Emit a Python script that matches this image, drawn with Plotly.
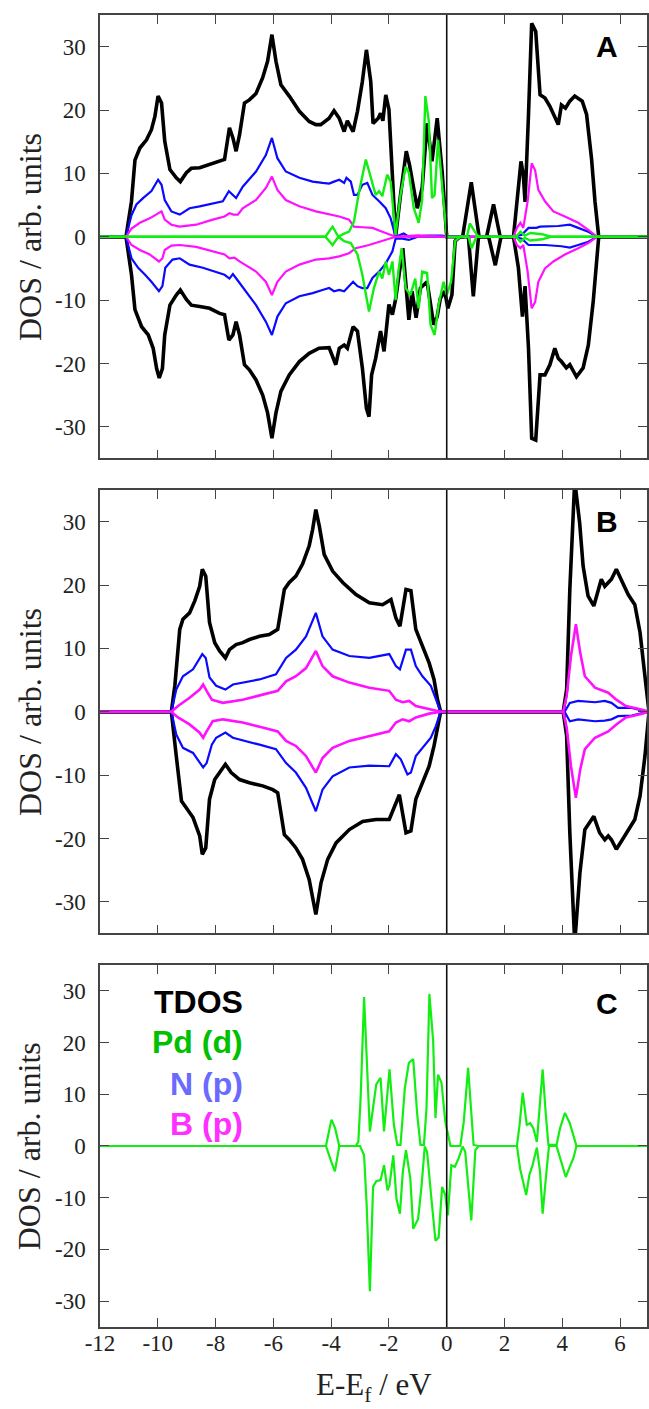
import plotly.graph_objects as go

# ---------------- data: (E - Ef [eV], DOS) ----------------
A_tdos_up = [(-12,0),(-11.1,0),(-10.91,5.6),(-10.79,12.1),(-10.62,14.0),(-10.39,15.3),(-10.22,16.9),(-10.10,19.0),
    (-9.99,22.2),(-9.87,21.1),(-9.76,15.1),(-9.58,10.6),(-9.36,9.3),(-9.22,8.7),(-9.01,10.1),(-8.84,10.8),(-8.55,10.9),
    (-8.21,11.4),(-7.86,11.9),(-7.69,12.2),(-7.52,17.2),(-7.40,15.6),(-7.29,13.5),(-7.17,16.1),(-7.0,21.1),(-6.83,21.6),
    (-6.6,22.6),(-6.37,25.1),(-6.2,27.7),(-6.05,31.9),(-5.91,27.7),(-5.74,24.0),(-5.45,22.2),(-5.1,19.8),(-4.76,18.2),
    (-4.53,17.7),(-4.36,17.7),(-4.07,18.7),(-3.9,19.9),(-3.72,18.7),(-3.55,16.6),(-3.44,18.3),(-3.24,16.6),(-3.09,19.8),
    (-2.92,24.5),(-2.78,29.5),(-2.63,24.5),(-2.55,17.9),(-2.37,18.7),(-2.29,19.5),(-2.21,18.3),(-2.11,22.4),(-2.0,20.1),
    (-1.77,0),(-1.6,6.6),(-1.4,13.5),(-1.29,11.4),(-1.02,4.5),(-0.85,7.7),(-0.68,17.9),(-0.51,11.9),(-0.33,18.7),
    (-0.16,10.3),(0.0,0),(0.55,0),(0.85,8.6),(1.12,0),(1.38,0),(1.62,5.1),(1.85,0),(2.31,0),(2.46,7.7),(2.57,11.9),
    (2.65,9.8),(2.71,5.5),(2.83,19.3),(2.94,33.7),(3.08,32.4),(3.23,22.4),(3.4,21.9),(3.57,20.6),(3.86,17.7),(3.97,20.8),
    (4.11,20.3),(4.26,21.4),(4.43,22.2),(4.69,21.4),(4.84,19.3),(5.01,12.4),(5.13,5.6),(5.26,0),(7,0)]
A_tdos_dn = [(-12,0),(-11.1,0),(-10.91,-6.0),(-10.79,-11.5),(-10.56,-14.2),(-10.33,-15.5),(-10.16,-17.6),(-10.04,-20.8),
    (-9.95,-22.3),(-9.84,-20.8),(-9.76,-15.5),(-9.58,-10.8),(-9.36,-9.2),(-9.22,-8.4),(-9.01,-9.9),(-8.84,-10.8),
    (-8.55,-11.0),(-8.21,-11.3),(-7.86,-12.1),(-7.69,-12.3),(-7.54,-16.3),(-7.40,-15.5),(-7.29,-13.4),(-7.17,-15.5),
    (-7.0,-20.2),(-6.83,-21.0),(-6.6,-22.6),(-6.37,-25.0),(-6.2,-27.8),(-6.05,-31.8),(-5.91,-27.8),(-5.74,-24.4),
    (-5.45,-21.8),(-5.1,-19.7),(-4.76,-18.4),(-4.42,-17.6),(-4.07,-17.5),(-3.84,-20.2),(-3.72,-17.6),(-3.55,-17.1),
    (-3.44,-17.6),(-3.24,-14.2),(-3.09,-14.9),(-2.92,-20.7),(-2.78,-27.1),(-2.69,-28.4),(-2.6,-21.8),(-2.46,-19.2),
    (-2.29,-14.9),(-2.17,-18.1),(-2.0,-10.7),(-1.88,-12.3),(-1.77,-9.9),(-1.6,-4.9),(-1.52,-1.8),(-1.31,-13.1),
    (-1.2,-8.6),(-1.06,-12.8),(-0.91,-8.1),(-0.68,-7.1),(-0.45,-13.9),(-0.33,-12.6),(-0.22,-9.7),(-0.07,-8.6),
    (0.04,-11.3),(0.18,-9.2),(0.29,-0.7),(0.46,0),(0.75,0),(0.92,-9.4),(1.1,0),(1.45,0),(1.68,-4.5),(1.88,0),(2.31,0),
    (2.48,-4.9),(2.62,-12.6),(2.71,-7.8),(2.83,-17.6),(2.94,-31.8),(3.08,-32.1),(3.23,-21.8),(3.4,-21.8),(3.57,-20.2),
    (3.74,-17.6),(3.86,-19.2),(3.97,-19.7),(4.14,-20.7),(4.26,-20.2),(4.49,-22.1),(4.72,-20.7),(4.9,-17.1),(5.07,-10.2),
    (5.26,0),(7,0)]
A_Np_up = [(-12,0),(-11.1,0),(-10.91,3.4),(-10.74,5.1),(-10.51,6.1),(-10.22,7.2),(-9.99,9.0),(-9.87,8.2),(-9.76,5.8),
    (-9.53,4.0),(-9.24,3.5),(-8.9,4.5),(-8.55,4.8),(-8.21,5.1),(-7.75,5.6),(-7.54,7.2),(-7.4,6.6),(-7.29,6.1),(-7.06,7.9),
    (-6.6,10.3),(-6.26,12.9),(-6.05,15.6),(-5.86,12.4),(-5.57,10.3),(-5.1,9.3),(-4.64,8.7),(-4.3,8.5),(-4.07,8.4),
    (-3.9,8.7),(-3.72,9.0),(-3.55,8.5),(-3.47,9.3),(-3.32,8.7),(-3.21,6.6),(-3.09,6.6),(-2.92,8.2),(-2.75,8.5),
    (-2.57,6.6),(-2.34,5.6),(-2.11,4.5),(-1.94,2.9),(-1.77,0),(-1.49,0.5),(-1.31,0),(-0.62,0.2),(-0.16,0.2),(0,0),
    (2.31,0),(2.6,0.3),(2.83,1.4),(3.1,1.4),(3.23,1.6),(3.86,1.7),(4.26,1.9),(4.55,1.4),(4.9,0.8),(5.2,0),(7,0)]
A_Np_dn = [(-12,0),(-11.1,0),(-10.91,-3.4),(-10.68,-4.9),(-10.44,-6.0),(-10.22,-7.1),(-9.96,-8.6),(-9.84,-7.8),
    (-9.74,-4.9),(-9.49,-3.6),(-9.24,-3.4),(-8.9,-4.4),(-8.44,-4.9),(-7.98,-5.5),(-7.69,-6.0),(-7.52,-6.6),(-7.4,-5.9),
    (-7.2,-7.1),(-6.95,-8.6),(-6.6,-10.8),(-6.26,-13.4),(-6.05,-15.5),(-5.86,-12.6),(-5.57,-10.5),(-5.1,-9.4),
    (-4.64,-8.9),(-4.3,-8.4),(-4.07,-8.1),(-3.9,-8.6),(-3.72,-8.4),(-3.55,-8.6),(-3.38,-7.8),(-3.24,-7.1),(-3.09,-7.8),
    (-2.92,-8.1),(-2.75,-8.1),(-2.57,-6.5),(-2.34,-5.5),(-2.11,-4.2),(-1.88,-2.3),(-1.77,-0.3),(-1.54,-0.3),
    (-1.31,-0.5),(-1.0,0),(2.31,0),(2.6,-0.3),(2.83,-1.3),(3.1,-1.3),(3.4,-1.3),(3.97,-1.5),(4.26,-1.7),(4.55,-1.3),
    (4.9,-0.8),(5.2,0),(7,0)]
A_Bp_up = [(-12,0),(-11.1,0),(-10.91,1.3),(-10.62,2.2),(-10.28,2.9),(-9.99,3.7),(-9.87,4.0),(-9.76,2.7),(-9.53,1.9),
    (-9.24,1.6),(-8.67,1.9),(-8.1,2.7),(-7.69,3.2),(-7.52,3.7),(-7.38,3.5),(-7.23,3.5),(-7.06,4.5),(-6.6,5.8),
    (-6.26,7.7),(-6.05,9.5),(-5.86,7.4),(-5.57,5.8),(-5.1,4.8),(-4.53,4.0),(-4.07,3.5),(-3.72,3.2),(-3.38,2.7),
    (-3.21,1.6),(-2.92,1.5),(-2.57,1.4),(-2.23,0.8),(-1.77,0),(-1.0,0.2),(0,0),(2.31,0),(2.43,1.4),(2.55,2.2),
    (2.65,1.4),(2.8,5.6),(2.94,11.6),(3.06,10.5),(3.17,7.4),(3.4,5.6),(3.69,4.0),(4.09,3.2),(4.55,2.2),(4.9,1.1),
    (5.2,0),(7,0)]
A_Bp_dn = [(-12,0),(-11.1,0),(-10.91,-1.3),(-10.62,-2.1),(-10.28,-2.8),(-9.96,-3.9),(-9.84,-3.4),(-9.76,-2.1),
    (-9.53,-1.4),(-9.24,-1.3),(-8.67,-1.6),(-8.1,-2.3),(-7.69,-2.8),(-7.52,-3.4),(-7.35,-3.3),(-7.17,-3.9),(-6.6,-5.5),
    (-6.26,-7.1),(-6.05,-9.2),(-5.86,-7.1),(-5.57,-5.5),(-5.1,-4.4),(-4.53,-3.6),(-4.07,-3.4),(-3.72,-3.1),
    (-3.38,-2.6),(-3.15,-1.8),(-2.69,-1.3),(-2.23,-0.7),(-1.77,0),(0,0),(2.31,0),(2.43,-1.3),(2.55,-1.8),(2.65,-1.3),
    (2.8,-5.5),(2.94,-11.3),(3.06,-10.3),(3.17,-7.1),(3.4,-5.0),(3.69,-3.9),(4.09,-2.8),(4.55,-1.8),(4.9,-1.0),
    (5.2,0),(7,0)]
A_Pdd_up = [(-12,0),(-4.2,0),(-3.95,1.6),(-3.75,0),(-3.55,0.5),(-3.38,0.8),(-3.21,2.4),(-3.03,7.2),(-2.8,12.2),
    (-2.63,9.3),(-2.46,6.6),(-2.34,7.2),(-2.23,6.4),(-2.06,9.8),(-1.94,8.7),(-1.77,0.3),(-1.6,6.6),(-1.42,11.1),
    (-1.31,10.1),(-1.14,4.5),(-0.97,2.2),(-0.85,5.8),(-0.74,22.2),(-0.62,18.2),(-0.51,6.1),(-0.42,6.6),(-0.3,15.3),
    (-0.11,5.6),(0.0,0),(0.7,0),(0.8,2.1),(0.97,0.8),(1.1,0),(2.4,0),(2.55,0.8),(2.7,0.2),(2.9,0.6),(3.3,0.4),
    (3.6,0),(7,0)]
A_Pdd_dn = [(-12,0),(-4.2,0),(-3.95,-1.3),(-3.75,0),(-3.55,-0.7),(-3.32,-1.0),(-3.09,-2.8),(-2.92,-6.0),(-2.69,-11.8),
    (-2.52,-8.1),(-2.34,-5.5),(-2.23,-6.6),(-2.11,-3.9),(-2.0,-6.0),(-1.88,-3.9),(-1.77,-10.0),(-1.66,-5.0),
    (-1.56,-1.8),(-1.42,-8.1),(-1.26,-9.2),(-1.09,-6.6),(-0.97,-11.3),(-0.85,-5.5),(-0.68,-5.7),(-0.56,-13.9),
    (-0.42,-15.5),(-0.28,-10.7),(-0.11,-7.1),(0.0,-9.2),(0.15,-7.1),(0.29,-0.7),(0.46,0),(0.75,0),(0.86,-1.8),
    (1.03,0),(2.4,0),(2.55,-0.8),(2.7,-0.2),(2.9,-0.6),(3.3,-0.4),(3.6,0),(7,0)]

B_tdos_up = [(-12,0),(-9.53,0),(-9.41,4.1),(-9.24,13.0),(-9.13,14.6),(-8.9,15.6),(-8.72,17.5),(-8.55,19.8),(-8.46,22.5),
    (-8.34,21.4),(-8.21,14.1),(-8.03,10.9),(-7.86,9.6),(-7.66,8.5),(-7.52,9.8),(-7.29,10.6),(-7.06,10.9),(-6.83,11.4),
    (-6.48,11.9),(-6.14,12.2),(-5.85,13.0),(-5.62,19.3),(-5.45,20.4),(-5.22,21.4),(-4.99,23.3),(-4.76,26.2),
    (-4.64,28.8),(-4.53,31.9),(-4.41,29.3),(-4.24,24.8),(-3.95,22.2),(-3.6,20.4),(-3.14,18.5),(-2.68,17.2),
    (-2.22,16.9),(-1.93,17.7),(-1.76,14.8),(-1.62,13.5),(-1.41,19.3),(-1.24,19.1),(-1.07,13.0),(-0.84,10.4),
    (-0.61,7.7),(-0.44,5.1),(-0.32,1.9),(-0.21,0),(4.03,0),(4.15,3.5),(4.26,19.3),(4.43,36.5),(4.6,29.8),(4.72,23.0),
    (4.89,18.3),(5.09,16.7),(5.24,19.3),(5.35,20.9),(5.47,19.8),(5.59,20.4),(5.7,20.9),(5.87,22.5),(6.05,20.6),
    (6.28,18.5),(6.51,16.9),(6.69,12.5),(6.86,5.6),(7.0,0)]
B_tdos_dn = [(-12,0),(-9.53,0),(-9.36,-7.0),(-9.18,-14.1),(-9.01,-15.2),(-8.78,-16.7),(-8.55,-19.6),(-8.46,-22.5),
    (-8.34,-21.5),(-8.21,-13.8),(-8.03,-10.7),(-7.84,-9.4),(-7.66,-8.3),(-7.46,-9.6),(-7.17,-10.7),(-6.83,-11.2),
    (-6.37,-11.7),(-6.02,-12.3),(-5.85,-12.8),(-5.62,-19.4),(-5.45,-20.2),(-5.22,-21.5),(-4.99,-23.3),(-4.76,-26.5),
    (-4.53,-32.0),(-4.35,-27.0),(-4.12,-23.3),(-3.83,-20.7),(-3.37,-18.6),(-2.91,-17.3),(-2.45,-17.0),(-1.99,-17.0),
    (-1.82,-15.2),(-1.64,-13.1),(-1.41,-19.1),(-1.24,-18.8),(-1.07,-13.8),(-0.84,-11.2),(-0.61,-8.6),(-0.44,-5.4),
    (-0.29,-1.7),(-0.21,0),(4.03,0),(4.15,-3.8),(4.26,-19.1),(4.43,-36.5),(4.61,-25.4),(4.78,-18.6),(5.09,-16.5),
    (5.29,-19.1),(5.47,-20.2),(5.59,-19.6),(5.7,-20.2),(5.87,-21.7),(6.05,-20.4),(6.28,-18.6),(6.51,-17.0),
    (6.69,-13.3),(6.86,-7.0),(7.0,0)]
B_Np_up = [(-12,0),(-9.53,0),(-9.36,3.5),(-9.13,5.6),(-8.78,6.7),(-8.55,8.3),(-8.46,9.1),(-8.34,8.5),(-8.21,5.4),
    (-7.98,4.1),(-7.66,3.5),(-7.4,4.3),(-6.94,4.7),(-6.48,5.1),(-5.91,5.9),(-5.56,8.5),(-5.22,9.8),(-4.87,11.9),
    (-4.53,15.6),(-4.3,11.9),(-3.95,9.8),(-3.37,8.8),(-2.68,8.5),(-1.99,9.1),(-1.76,7.2),(-1.62,6.7),(-1.41,9.8),
    (-1.24,9.8),(-1.07,7.2),(-0.84,5.6),(-0.55,4.1),(-0.38,1.9),(-0.21,0),(4.08,0),(4.26,1.4),(4.55,1.7),(5.13,1.5),
    (5.47,1.7),(5.7,1.4),(5.93,0.6),(6.4,0.6),(6.69,0.3),(7.0,0)]
B_Np_dn = [(-12,0),(-9.53,0),(-9.36,-3.6),(-9.13,-5.7),(-8.78,-6.5),(-8.55,-8.1),(-8.43,-8.8),(-8.31,-8.1),
    (-8.13,-5.2),(-7.98,-4.1),(-7.66,-3.3),(-7.4,-4.1),(-6.94,-4.6),(-6.48,-5.2),(-5.91,-5.9),(-5.56,-8.1),
    (-5.22,-9.6),(-4.87,-12.0),(-4.53,-15.7),(-4.3,-12.3),(-3.95,-10.2),(-3.37,-8.8),(-2.68,-8.5),(-1.99,-8.6),
    (-1.76,-6.7),(-1.59,-7.5),(-1.36,-9.9),(-1.24,-9.6),(-1.07,-7.0),(-0.84,-5.7),(-0.55,-4.1),(-0.38,-2.3),
    (-0.21,0),(4.08,0),(4.26,-1.5),(4.55,-1.2),(5.13,-1.5),(5.47,-1.4),(5.7,-1.2),(5.93,-0.7),(6.4,-0.6),
    (6.69,-0.3),(7.0,0)]
B_Bp_up = [(-12,0),(-9.53,0),(-9.3,0.9),(-8.9,2.2),(-8.55,3.5),(-8.43,4.3),(-8.31,3.3),(-8.13,1.9),(-7.75,1.4),
    (-7.06,1.9),(-6.37,2.7),(-5.85,3.3),(-5.56,4.8),(-5.22,5.6),(-4.87,6.9),(-4.53,9.6),(-4.3,7.2),(-3.95,5.6),
    (-3.37,4.6),(-2.68,3.8),(-1.99,3.3),(-1.76,1.9),(-1.53,1.5),(-1.3,1.7),(-1.07,0.9),(-0.61,0.4),(-0.21,0),
    (4.03,0),(4.15,2.5),(4.3,8.8),(4.47,13.8),(4.62,9.3),(4.78,5.6),(5.13,3.8),(5.59,3.0),(5.87,1.9),(6.2,0.9),
    (6.69,0.4),(7.0,0)]
B_Bp_dn = [(-12,0),(-9.53,0),(-9.3,-0.9),(-8.9,-2.0),(-8.55,-3.3),(-8.43,-4.1),(-8.31,-3.1),(-8.1,-1.5),(-7.75,-1.2),
    (-7.06,-1.7),(-6.37,-2.5),(-5.85,-3.1),(-5.56,-4.6),(-5.22,-5.4),(-4.87,-7.0),(-4.53,-9.6),(-4.3,-7.3),
    (-3.95,-5.7),(-3.37,-4.6),(-2.68,-3.8),(-1.99,-3.1),(-1.76,-1.7),(-1.53,-1.2),(-1.3,-1.5),(-1.07,-0.9),
    (-0.61,-0.3),(-0.21,0),(4.03,0),(4.15,-2.5),(4.3,-8.6),(4.47,-13.6),(4.62,-9.1),(4.78,-5.9),(5.13,-4.1),
    (5.59,-3.1),(5.87,-2.0),(6.2,-0.9),(6.69,-0.4),(7.0,0)]

C_Pdd_up = [(-12,0),(-4.18,0),(-3.99,5.1),(-3.86,3.4),(-3.72,0),(-3.15,0),(-3.06,0.8),(-2.98,9.3),(-2.86,28.8),
    (-2.66,2.8),(-2.44,11.9),(-2.29,13.2),(-2.17,2.8),(-1.98,14.8),(-1.83,4.1),(-1.71,0.2),(-1.6,0.2),(-1.45,11.2),
    (-1.31,16.1),(-1.16,16.8),(-1.02,6.0),(-0.91,0.2),(-0.79,0.2),(-0.7,7.3),(-0.6,29.4),(-0.47,20.3),(-0.39,5.4),
    (-0.3,13.8),(-0.18,12.2),(-0.05,4.7),(0.13,0),(0.47,0),(0.59,4.7),(0.74,15.1),(0.93,0.2),(1.1,0),(2.43,0),
    (2.52,4.1),(2.63,10.3),(2.77,4.1),(2.89,4.4),(3.0,3.4),(3.12,0.8),(3.21,7.3),(3.32,14.8),(3.43,6.0),(3.52,0.2),
    (3.8,0.2),(3.92,3.4),(4.09,6.4),(4.26,4.4),(4.38,2.1),(4.49,0),(7,0)]
C_Pdd_dn = [(-12,0),(-4.18,0),(-3.99,-3.1),(-3.87,-4.9),(-3.72,0),(-3.0,0),(-2.86,-1.8),(-2.77,-11.5),(-2.66,-28.1),
    (-2.55,-7.9),(-2.44,-6.8),(-2.29,-6.6),(-2.17,-3.7),(-2.05,-8.6),(-1.98,-7.6),(-1.85,-1.8),(-1.74,-10.2),
    (-1.62,-13.1),(-1.52,-5.0),(-1.41,-0.8),(-1.26,-6.3),(-1.16,-16.0),(-0.99,-14.1),(-0.87,-7.6),(-0.76,-0.1),
    (-0.68,-1.1),(-0.53,-10.2),(-0.39,-18.3),(-0.28,-17.7),(-0.16,-7.9),(-0.05,-9.5),(0.04,-13.4),(0.16,-3.7),
    (0.28,-4.0),(0.41,-2.4),(0.55,-0.1),(0.64,-1.1),(0.85,-14.4),(0.99,-0.8),(1.1,0),(2.43,0),(2.54,-4.4),
    (2.75,-9.5),(2.86,-5.6),(2.97,-3.7),(3.12,-0.3),(3.23,-5.0),(3.32,-13.1),(3.46,-4.4),(3.54,0),(3.8,0),
    (3.92,-2.4),(4.12,-6.0),(4.26,-4.0),(4.38,-2.4),(4.49,0),(7,0)]

x_ticks = [-12, -10, -8, -6, -4, -2, 0, 2, 4, 6]
x_ticktext = ["-12", "-10", "-8", "-6", "-4", "-2", "0", "2", "4", "6"]
y_ticks = [-30, -20, -10, 0, 10, 20, 30]
y_ticktext = ["-30", "-20", "-10", "0", "10", "20", "30"]
panel_labels = ["A", "B", "C"]
legend_labels = ["TDOS", "Pd (d)", "N (p)", "B (p)"]

# ---------------- styles ----------------
BLACK, BLUE, MAGENTA, GREEN = "#000000", "#0a0aff", "#ff10ff", "#12ee12"
LEG_COLORS = ["#000000", "#00c000", "#6a6aff", "#ff30ff"]
SERIF = "Liberation Serif, Times New Roman, serif"
SANS = "Liberation Sans, Arial, sans-serif"
W, H = 649, 1409
L = 100

fig = go.Figure()

def add(curve, color, width, xa, ya):
    xs = [p[0] for p in curve]
    ys = [p[1] for p in curve]
    fig.add_trace(go.Scatter(x=xs, y=ys, mode="lines", xaxis=xa, yaxis=ya,
                             line=dict(color=color, width=width), showlegend=False,
                             hoverinfo="skip"))

# Panel A
for c in (A_tdos_up, A_tdos_dn):
    add(c, BLACK, 3.6, "x", "y")
for c in (A_Np_up, A_Np_dn):
    add(c, BLUE, 2.2, "x", "y")
for c in (A_Bp_up, A_Bp_dn):
    add(c, MAGENTA, 2.2, "x", "y")
for c in (A_Pdd_up, A_Pdd_dn):
    add(c, GREEN, 2.4, "x", "y")
# Panel B
for c in (B_tdos_up, B_tdos_dn):
    add(c, BLACK, 3.6, "x2", "y2")
for c in (B_Np_up, B_Np_dn):
    add(c, BLUE, 2.2, "x2", "y2")
for c in (B_Bp_up, B_Bp_dn):
    add(c, MAGENTA, 2.6, "x2", "y2")
# Panel C
for c in (C_Pdd_up, C_Pdd_dn):
    add(c, GREEN, 2.2, "x3", "y3")

domains = [[0.6746, 0.98935], [0.33748, 0.65224], [0.0582, 0.31512]]
axcol = "#444444"
common_x = dict(range=[-12, -12 + (W - L) / 29.0], tickvals=x_ticks, ticktext=x_ticktext,
                ticks="inside", ticklen=9, tickwidth=1.3, tickcolor=axcol, showline=True,
                linecolor=axcol, linewidth=1.5, mirror="ticks", showgrid=False, zeroline=False,
                tickfont=dict(family=SERIF, size=23, color="#222222"))
common_y = dict(range=[-35, 35], tickvals=y_ticks, ticktext=y_ticktext, ticks="inside", ticklen=9,
                tickwidth=1.3, tickcolor=axcol, showline=True, linecolor=axcol, linewidth=1.5,
                mirror="ticks", showgrid=False, zeroline=False, ticklabelstandoff=8,
                tickfont=dict(family=SERIF, size=23, color="#222222"))

layout = dict(width=W, height=H, margin=dict(l=L, r=0, t=0, b=0),
              plot_bgcolor="white", paper_bgcolor="white", showlegend=False)
for i in range(3):
    sfx = "" if i == 0 else str(i + 1)
    xa = dict(common_x, anchor="y" + sfx, showticklabels=(i == 2))
    if i == 2:
        xa["ticklabelstandoff"] = -5
    else:
        xa["matches"] = "x3"
    layout["xaxis" + sfx] = xa
    layout["yaxis" + sfx] = dict(common_y, anchor="x" + sfx, domain=domains[i])
fig.update_layout(**layout)

shapes = []
annotations = []
for i in range(3):
    sfx = "" if i == 0 else str(i + 1)
    shapes.append(dict(type="line", xref="x" + sfx, yref="y" + sfx + " domain", x0=0, x1=0, y0=0, y1=1,
                       line=dict(color="#111111", width=1.6), layer="above"))
    d0, d1 = domains[i]
    annotations.append(dict(text="DOS / arb. units", xref="paper", yref="paper",
                            x=(29 - L) / (W - L), y=(d0 + d1) / 2, textangle=-90,
                            xanchor="center", yanchor="middle", showarrow=False,
                            font=dict(family=SERIF, size=32, color="#222222")))

label_y_px = [46, 522, 1003]
for lab, py in zip(panel_labels, label_y_px):
    annotations.append(dict(text="<b>%s</b>" % lab, xref="paper", yref="paper",
                            x=(609 - L) / (W - L), y=1 - py / H, xanchor="center", yanchor="middle",
                            showarrow=False, font=dict(family=SANS, size=30, color="#000000")))

leg_y_px = [1002, 1042, 1084, 1124]
for lab, col, py in zip(legend_labels, LEG_COLORS, leg_y_px):
    annotations.append(dict(text="<b>%s</b>" % lab, xref="paper", yref="paper",
                            x=(246 - L) / (W - L), y=1 - py / H, xanchor="right", yanchor="middle",
                            showarrow=False, font=dict(family=SANS, size=32, color=col)))

annotations.append(dict(text="E-E<sub>f</sub> / eV", xref="paper", yref="paper", x=0.5, y=1 - 1387 / H,
                        xanchor="center", yanchor="middle", showarrow=False,
                        font=dict(family=SERIF, size=31, color="#222222")))

fig.update_layout(shapes=shapes, annotations=annotations)
fig.write_html("out.html")
